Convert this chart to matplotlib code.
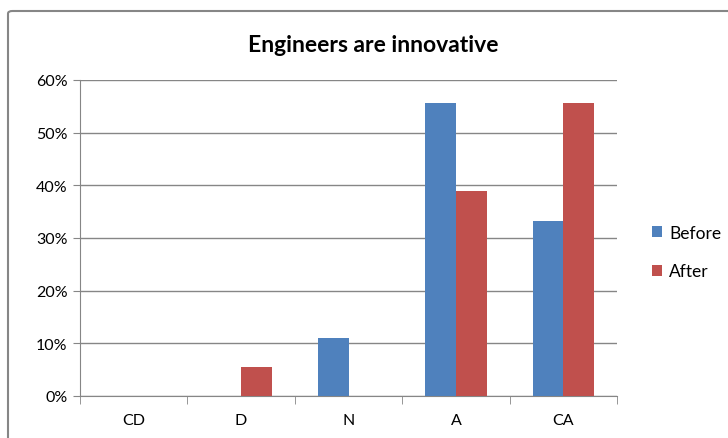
import numpy as np
import matplotlib.pyplot as plt
from matplotlib.patches import FancyBboxPatch

categories = ["CD", "D", "N", "A", "CA"]
before = [0.0, 0.0, 11.1, 55.6, 33.3]
after = [0.0, 5.6, 0.0, 38.9, 55.6]
yticks = [0, 10, 20, 30, 40, 50, 60]

plt.rcParams['font.family'] = ['Lato', 'DejaVu Sans']

fig = plt.figure(figsize=(7.28, 4.39), dpi=100)
fig.patches.append(FancyBboxPatch((8 / 728, -0.05), 1.0, 1 - 12 / 439 + 0.05,
                                  boxstyle="round,pad=0,rounding_size=0.006",
                                  transform=fig.transFigure, fill=False,
                                  edgecolor="#868686", linewidth=1.5))

ax = fig.add_axes([80 / 728, 1 - 397 / 439, 537 / 728, 316 / 439])
x = np.arange(len(categories))
w = 1 / 3.5
ax.bar(x - w / 2, before, w, color="#4F81BD", label="Before", zorder=3)
ax.bar(x + w / 2, after, w, color="#C0504D", label="After", zorder=3)

ax.set_xlim(-0.5, len(categories) - 0.5)
ax.set_ylim(0, 60)
ax.set_yticks(yticks)
ax.set_yticklabels([f"{t}%" for t in yticks], fontsize=11.5)
ax.yaxis.grid(True, color="#868686", linewidth=1, zorder=0)
ax.set_xticks(x)
ax.set_xticklabels(categories, fontsize=11.5)
ax.tick_params(axis="x", length=0, pad=12)
ax.set_xticks(np.arange(-0.5, len(categories)), minor=True)
ax.tick_params(axis="x", which="minor", length=6, color="#868686")
ax.tick_params(axis="y", length=5, color="#868686", pad=4)
for s in ["top", "right"]:
    ax.spines[s].set_visible(False)
for s in ["left", "bottom"]:
    ax.spines[s].set_color("#868686")

# title is centred on the whole chart area, not the plot
fig.text(373 / 728, 1 - 45 / 439, "Engineers are innovative",
         ha="center", va="center", fontsize=16.5, fontweight="bold")
fig.legend(loc="center left", bbox_to_anchor=(636 / 728, 1 - 253 / 439),
           frameon=False, fontsize=12.5, handlelength=0.6, handleheight=0.6,
           handletextpad=0.4, labelspacing=1.3)

fig.savefig("out.png", dpi=100)
